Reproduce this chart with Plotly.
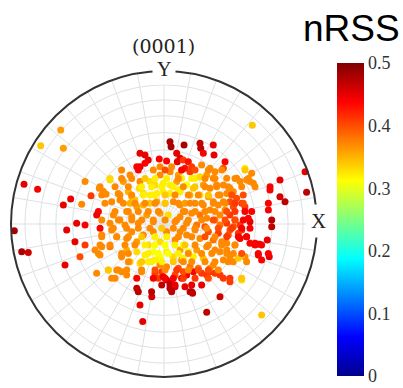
import numpy as np
import plotly.graph_objects as go

# ---- data: projected pole positions (unit disc) and nRSS value ----
x_outer = [-0.675, -0.806, 0.577, -0.915, -0.826, -0.978, -0.93, -0.887, -0.139]
y_outer = [0.614, 0.512, 0.645, 0.259, 0.227, -0.044, -0.181, -0.187, -0.638]
v_outer = [0.36, 0.34, 0.34, 0.45, 0.44, 0.48, 0.48, 0.46, 0.45]

x_ul = [-0.658, -0.516, -0.658, -0.61, -0.571, -0.516, -0.538, -0.477, -0.44, -0.423,
        -0.397, -0.379, -0.342, -0.353, -0.277, -0.222, -0.266, -0.299, -0.288, -0.233,
        -0.211, -0.19, -0.222, -0.157, -0.161,
        -0.157, -0.124, -0.103, -0.124, -0.157, -0.178,
        -0.031, -0.026, 0.017, 0.039, 0.046, 0.083, 0.105, 0.087, 0.05, 0.039,
        -0.026, -0.092, -0.059, -0.005, 0.039, 0.094, 0.083,
        -0.135, -0.092, -0.048, -0.005, 0.039, 0.094,
        -0.244, -0.211, -0.178, -0.135, -0.092, -0.048, 0.007, 0.061, 0.105,
        -0.288, -0.255, -0.168, -0.113, -0.07, -0.026, 0.028, 0.072, 0.105, -0.353, -0.331]
y_ul = [0.495, 0.277, 0.124, 0.163, 0.005, -0.007, 0.129, 0.185, 0.059, 0.233,
        0.214, 0.194, 0.146, 0.288, 0.353, 0.32, 0.277, 0.2, 0.157, 0.211,
        0.178, 0.157, 0.135, 0.277, 0.233,
        0.462, 0.451, 0.418, 0.397, 0.375, 0.375,
        0.425, 0.375, 0.412, 0.538, 0.505, 0.462, 0.429, 0.407, 0.375, 0.342,
        0.32, 0.277, 0.255, 0.266, 0.255, 0.32, 0.277,
        0.2, 0.19, 0.2, 0.211, 0.2, 0.222,
        0.081, 0.048, 0.113, 0.124, 0.135, 0.146, 0.135, 0.146, 0.124,
        0.026, -0.007, 0.005, 0.059, 0.015, 0.07, 0.059, 0.015, 0.048, 0.005, 0.059]
v_ul = [0.36, 0.37, 0.45, 0.45, 0.45, 0.44, 0.37, 0.41, 0.45, 0.37,
        0.37, 0.37, 0.37, 0.33, 0.37, 0.37, 0.36, 0.37, 0.37, 0.35,
        0.35, 0.34, 0.35, 0.37, 0.33,
        0.45, 0.45, 0.45, 0.44, 0.45, 0.44,
        0.44, 0.37, 0.44, 0.48, 0.48, 0.45, 0.45, 0.45, 0.37, 0.37,
        0.37, 0.33, 0.33, 0.32, 0.32, 0.36, 0.36,
        0.33, 0.32, 0.32, 0.32, 0.32, 0.32,
        0.37, 0.37, 0.36, 0.35, 0.34, 0.36, 0.36, 0.37, 0.37,
        0.37, 0.37, 0.37, 0.36, 0.37, 0.36, 0.33, 0.37, 0.37, 0.37, 0.37]

x_ur = [0.131, 0.235, 0.24, 0.322, 0.257, 0.327,
        0.126, 0.159, 0.181, 0.137, 0.17, 0.246, 0.301, 0.333, 0.399, 0.388,
        0.529, 0.573, 0.54, 0.562, 0.584, 0.475, 0.497, 0.41, 0.431, 0.453, 0.388, 0.41,
        0.758, 0.693, 0.758, 0.791, 0.922, 0.932, 0.682, 0.704, 0.562, 0.551,
        0.508, 0.529, 0.475, 0.453, 0.431, 0.366, 0.388, 0.355, 0.399, 0.366,
        0.431, 0.464, 0.497, 0.41,
        0.115, 0.148, 0.203, 0.235, 0.279, 0.322, 0.192, 0.257, 0.301, 0.344,
        0.105, 0.17, 0.235, 0.29, 0.322, 0.137, 0.203, 0.257, 0.301,
        0.126, 0.181, 0.235, 0.279, 0.333, 0.148, 0.214, 0.268, 0.366]
y_ur = [0.516, 0.527, 0.495, 0.516, 0.462, 0.451,
        0.418, 0.407, 0.375, 0.364, 0.342, 0.386, 0.364, 0.342, 0.407, 0.364,
        0.364, 0.331, 0.288, 0.277, 0.266, 0.299, 0.277, 0.299, 0.233, 0.211, 0.255, 0.2,
        0.288, 0.222, 0.178, 0.146, 0.342, 0.207, 0.092, -0.018, 0.015, 0.037,
        0.135, 0.113, 0.168, 0.113, 0.146, 0.19, 0.146, 0.124, 0.092, 0.059,
        0.059, 0.026, -0.007, 0.005,
        0.299, 0.255, 0.299, 0.309, 0.32, 0.299, 0.233, 0.255, 0.233, 0.255,
        0.211, 0.19, 0.19, 0.178, 0.146, 0.135, 0.135, 0.124, 0.092,
        0.081, 0.07, 0.059, 0.037, 0.026, 0.005, -0.007, -0.018, -0.007]
v_ur = [0.48, 0.47, 0.47, 0.45, 0.44, 0.45,
        0.41, 0.43, 0.41, 0.43, 0.41, 0.37, 0.37, 0.37, 0.44, 0.40,
        0.32, 0.37, 0.37, 0.37, 0.37, 0.37, 0.37, 0.37, 0.37, 0.37, 0.37, 0.37,
        0.45, 0.44, 0.46, 0.47, 0.45, 0.47, 0.44, 0.47, 0.45, 0.44,
        0.41, 0.41, 0.40, 0.40, 0.40, 0.37, 0.37, 0.37, 0.37, 0.37,
        0.41, 0.41, 0.41, 0.41,
        0.32, 0.31, 0.32, 0.33, 0.36, 0.37, 0.34, 0.36, 0.37, 0.37,
        0.32, 0.35, 0.33, 0.36, 0.37, 0.36, 0.37, 0.37, 0.37,
        0.37, 0.37, 0.38, 0.37, 0.38, 0.37, 0.38, 0.40, 0.38]

x_ll = [-0.636, -0.582, -0.516, -0.549, -0.647, -0.451, -0.407, -0.418, -0.353,
        -0.407, -0.342, -0.309, -0.277, -0.244, -0.364, -0.44, -0.309, -0.277, -0.244,
        -0.342, -0.32, -0.146, -0.178, -0.08, -0.157,
        -0.059, -0.037, -0.015, -0.005, 0.017, 0.05, 0.072, 0.039, 0.094, 0.072, 0.017, -0.026,
        -0.244, -0.211, -0.178, -0.135, -0.103, -0.07, -0.026, 0.017, 0.072, 0.105,
        -0.178, -0.124, -0.07, -0.026, 0.017, 0.061, 0.105,
        -0.222, -0.157, -0.103, -0.059, 0.115]
y_ll = [-0.039, -0.116, -0.137, -0.214, -0.268, -0.17, -0.148, -0.203, -0.148,
        -0.072, -0.039, -0.083, -0.214, -0.17, -0.301, -0.322, -0.301, -0.312, -0.333,
        -0.355, -0.355, -0.312, -0.42, -0.475, -0.529,
        -0.322, -0.355, -0.312, -0.344, -0.366, -0.388, -0.41, -0.42, -0.29, -0.333, -0.279, -0.268,
        -0.094, -0.05, -0.116, -0.072, -0.137, -0.05, -0.116, -0.05, -0.105, -0.05,
        -0.181, -0.203, -0.181, -0.214, -0.181, -0.214, -0.17,
        -0.246, -0.257, -0.246, -0.235, -0.235]
v_ll = [0.45, 0.45, 0.41, 0.40, 0.45, 0.37, 0.37, 0.37, 0.38,
        0.37, 0.37, 0.37, 0.37, 0.35, 0.33, 0.37, 0.37, 0.37, 0.37,
        0.37, 0.37, 0.37, 0.47, 0.46, 0.45,
        0.41, 0.41, 0.41, 0.45, 0.46, 0.47, 0.46, 0.47, 0.40, 0.40, 0.37, 0.37,
        0.37, 0.37, 0.36, 0.37, 0.33, 0.37, 0.33, 0.37, 0.37, 0.37,
        0.33, 0.32, 0.31, 0.31, 0.32, 0.33, 0.36,
        0.34, 0.33, 0.32, 0.32, 0.37]

x_lr = [0.675, 0.595, 0.623, 0.617, 0.688, 0.529, 0.54, 0.508, 0.638, 0.366, 0.279,
        0.17, 0.187, 0.137, 0.388, 0.431, 0.366, 0.246, 0.279, 0.301, 0.333,
        0.148, 0.192, 0.115, 0.301, 0.322, 0.388, 0.431, 0.453, 0.486, 0.508,
        0.366, 0.41, 0.453, 0.377, 0.41, 0.464, 0.497, 0.54, 0.562, 0.508, 0.486,
        0.431, 0.453, 0.42,
        0.126, 0.159, 0.192, 0.126, 0.214, 0.257, 0.148, 0.203, 0.235, 0.29, 0.322,
        0.279, 0.333, 0.355, 0.17, 0.224, 0.126, 0.638]
y_lr = [-0.105, -0.126, -0.133, -0.203, -0.214, -0.214, -0.246, -0.366, -0.595, -0.475, -0.577,
        -0.442, -0.453, -0.41, -0.355, -0.377, -0.333, -0.322, -0.333, -0.312, -0.322,
        -0.333, -0.312, -0.355, -0.29, -0.268, -0.235, -0.214, -0.246, -0.224, -0.203,
        -0.181, -0.17, -0.192, -0.116, -0.126, -0.137, -0.094, -0.083, -0.126, -0.039, -0.061,
        -0.039, -0.018, -0.072,
        -0.137, -0.181, -0.214, -0.224, -0.17, -0.224, -0.072, -0.039, -0.094, -0.05, -0.105,
        -0.148, -0.17, -0.061, -0.279, -0.29, -0.312, -0.235]
v_lr = [0.45, 0.44, 0.44, 0.45, 0.45, 0.37, 0.37, 0.33, 0.34, 0.46, 0.47,
        0.47, 0.47, 0.45, 0.41, 0.41, 0.41, 0.41, 0.41, 0.41, 0.41,
        0.44, 0.44, 0.44, 0.37, 0.37, 0.37, 0.37, 0.37, 0.34, 0.34,
        0.37, 0.37, 0.37, 0.37, 0.37, 0.37, 0.44, 0.44, 0.44, 0.41, 0.41,
        0.40, 0.40, 0.40,
        0.31, 0.31, 0.32, 0.32, 0.36, 0.34, 0.37, 0.37, 0.37, 0.40, 0.38,
        0.37, 0.37, 0.41, 0.38, 0.38, 0.40, 0.44]

# dense core, read row by row
x_core = [-0.168, -0.07, 0.007, 0.115, 0.203, 0.29, 0.377, 0.529,
          -0.353, -0.277, -0.211, -0.124, -0.059, 0.017, 0.094, 0.181, 0.268, 0.333, 0.464, 0.551,
          -0.418, -0.32, -0.233, -0.146, -0.081, -0.015, 0.061, 0.126, 0.203, 0.268, 0.344, 0.42, 0.508, 0.595, 0.693,
          -0.407, -0.288, -0.211, -0.135, -0.059, 0.007, 0.072, 0.159, 0.224, 0.29, 0.355, 0.442, 0.518,
          -0.386, -0.266, -0.19, -0.124, -0.059, 0.007, 0.094, 0.17, 0.246, 0.322, 0.399, 0.464, 0.518, 0.682,
          -0.429, -0.32, -0.233, -0.168, -0.103, -0.037, 0.137, 0.203, 0.268, 0.333, 0.41, 0.464, 0.529, 0.573,
          -0.407, -0.298, -0.211, -0.146, -0.07, 0.007, 0.083, 0.159, 0.246, 0.322, 0.399, 0.464, 0.518, 0.704,
          -0.418, -0.331, -0.244, -0.168, -0.092, -0.015, 0.061, 0.126, 0.203, 0.279, 0.355, 0.442, 0.508, 0.562,
          -0.407, -0.309, -0.233, -0.146, -0.059, 0.017, 0.094, 0.181, 0.268, 0.333, 0.41, 0.486, 0.54,
          -0.418, -0.353, -0.255, -0.19, -0.124, -0.059, 0.007, 0.072, 0.137, 0.203, 0.29, 0.377, 0.464, 0.595, 0.638,
          -0.429, -0.277, -0.233, -0.103, -0.037, 0.028, 0.094, 0.159, 0.246, 0.312, 0.41, 0.508, 0.616, 0.682,
          -0.233, -0.146, -0.081, -0.015, 0.061, 0.126, 0.181, 0.268, 0.333, 0.42,
          -0.364, -0.298, -0.244, -0.146, -0.059, 0.007, 0.083, 0.159, 0.224, 0.29, 0.355,
          -0.178, -0.07, 0.007, 0.061, 0.126, 0.203, 0.29, 0.431, 0.508,
          -0.015, 0.039, 0.072, 0.181, 0.246,
          -0.168, -0.081, 0.05, 0.181]
y_core = [0.353] * 8 + [0.298] * 12 + [0.244] * 15 + [0.19] * 13 + [0.135] * 14 + \
         [0.081] * 14 + [0.026] * 14 + [-0.028] * 14 + [-0.083] * 13 + [-0.137] * 15 + \
         [-0.192] * 14 + [-0.246] * 10 + [-0.301] * 11 + [-0.355] * 9 + [-0.399] * 5 + [-0.442] * 4
v_core = [0.44, 0.37, 0.40, 0.44, 0.40, 0.37, 0.37, 0.34,
          0.33, 0.37, 0.37, 0.34, 0.32, 0.32, 0.37, 0.32, 0.37, 0.37, 0.37, 0.37,
          0.37, 0.37, 0.37, 0.32, 0.32, 0.32, 0.32, 0.37, 0.34, 0.37, 0.37, 0.37, 0.37, 0.37, 0.44,
          0.37, 0.37, 0.37, 0.32, 0.32, 0.34, 0.37, 0.37, 0.37, 0.34, 0.37, 0.40, 0.40,
          0.37, 0.37, 0.37, 0.37, 0.37, 0.34, 0.37, 0.37, 0.37, 0.37, 0.37, 0.41, 0.40, 0.44,
          0.44, 0.37, 0.37, 0.37, 0.37, 0.37, 0.37, 0.37, 0.37, 0.37, 0.40, 0.41, 0.44, 0.44,
          0.37, 0.37, 0.37, 0.37, 0.37, 0.37, 0.37, 0.37, 0.37, 0.40, 0.40, 0.40, 0.44, 0.47,
          0.44, 0.37, 0.37, 0.37, 0.37, 0.34, 0.37, 0.37, 0.37, 0.37, 0.40, 0.41, 0.44, 0.44,
          0.37, 0.37, 0.37, 0.34, 0.32, 0.32, 0.37, 0.37, 0.40, 0.37, 0.41, 0.44, 0.44,
          0.37, 0.37, 0.37, 0.37, 0.32, 0.31, 0.31, 0.32, 0.34, 0.37, 0.37, 0.37, 0.37, 0.44, 0.44,
          0.37, 0.37, 0.37, 0.32, 0.31, 0.31, 0.32, 0.37, 0.37, 0.37, 0.37, 0.40, 0.44, 0.44,
          0.37, 0.34, 0.32, 0.32, 0.34, 0.37, 0.37, 0.37, 0.37, 0.37,
          0.34, 0.37, 0.37, 0.37, 0.40, 0.37, 0.41, 0.37, 0.40, 0.40, 0.37,
          0.44, 0.44, 0.44, 0.44, 0.41, 0.41, 0.40, 0.41, 0.34,
          0.47, 0.47, 0.45, 0.45, 0.45,
          0.47, 0.47, 0.47, 0.47]

ring_tilts_deg = [10, 20, 30, 40, 50, 60, 70, 80]
cbar_ticks = [0, 0.1, 0.2, 0.3, 0.4, 0.5]
cbar_labels = ["0", "0.1", "0.2", "0.3", "0.4", "0.5"]

# ---- assemble ----
xs = np.array(x_outer + x_ul + x_ur + x_ll + x_lr + x_core)
ys = np.array(y_outer + y_ul + y_ur + y_ll + y_lr + y_core)
vals = np.array(v_outer + v_ul + v_ur + v_ll + v_lr + v_core)
r = np.hypot(xs, ys)
theta = np.degrees(np.arctan2(ys, xs))

# equal-area projection radius of the tilt rings
ring_r = np.sin(np.radians(np.array(ring_tilts_deg) / 2.0)) / np.sin(np.radians(45))

jet = [[0, 'rgb(0,0,143)'], [0.125, 'rgb(0,0,255)'], [0.375, 'rgb(0,255,255)'],
       [0.625, 'rgb(255,255,0)'], [0.875, 'rgb(255,0,0)'], [1, 'rgb(128,0,0)']]

W, H = 403, 388
grid_col = 'rgb(222,224,228)'

fig = go.Figure(go.Scatterpolar(
    r=r, theta=theta, mode='markers', hoverinfo='skip',
    marker=dict(size=7, color=vals, colorscale=jet, cmin=0, cmax=0.5,
                line=dict(width=0),
                colorbar=dict(x=337 / W, xanchor='left', y=1 - 219.5 / H, yanchor='middle',
                              len=313, lenmode='pixels', thickness=27,
                              thicknessmode='pixels', xpad=0, ypad=0,
                              outlinewidth=0, ticks='', tickvals=cbar_ticks,
                              ticktext=cbar_labels, ticklabeloverflow='allow',
                              tickfont=dict(family='Liberation Serif', size=18,
                                            color='#333')))
))

fig.update_layout(
    width=W, height=H, margin=dict(l=0, r=0, t=0, b=0),
    paper_bgcolor='white', showlegend=False,
    polar=dict(
        domain=dict(x=[11 / W, 317 / W], y=[1 - 377 / H, 1 - 71 / H]),
        bgcolor='white',
        radialaxis=dict(range=[0, 1], tickmode='array', tickvals=list(ring_r),
                        showticklabels=False, ticks='', gridcolor=grid_col,
                        gridwidth=1, showline=False),
        angularaxis=dict(tickmode='linear', dtick=10, direction='counterclockwise',
                         rotation=0, showticklabels=False, ticks='',
                         gridcolor=grid_col, gridwidth=1, showline=True,
                         linecolor='#333', linewidth=2),
    ),
    annotations=[
        dict(text='Y', x=164 / W, y=1 - 69 / H, xref='paper', yref='paper',
             showarrow=False, xanchor='center', yanchor='middle', bgcolor='white',
             borderpad=4, font=dict(family='Liberation Serif', size=20, color='#222')),
        dict(text='X', x=318 / W, y=1 - 221 / H, xref='paper', yref='paper',
             showarrow=False, xanchor='center', yanchor='middle', bgcolor='white',
             borderpad=4, font=dict(family='Liberation Serif', size=21, color='#222')),
        dict(text='(0001)', x=163 / W, y=1 - 46 / H, xref='paper', yref='paper',
             showarrow=False, xanchor='center', yanchor='middle',
             font=dict(family='DejaVu Serif', size=19, color='#222')),
        dict(text='nRSS', x=351 / W, y=1 - 29 / H, xref='paper', yref='paper',
             showarrow=False, xanchor='center', yanchor='middle',
             font=dict(family='Liberation Sans', size=37, color='black')),
    ],
)

fig.write_html('out.html')
